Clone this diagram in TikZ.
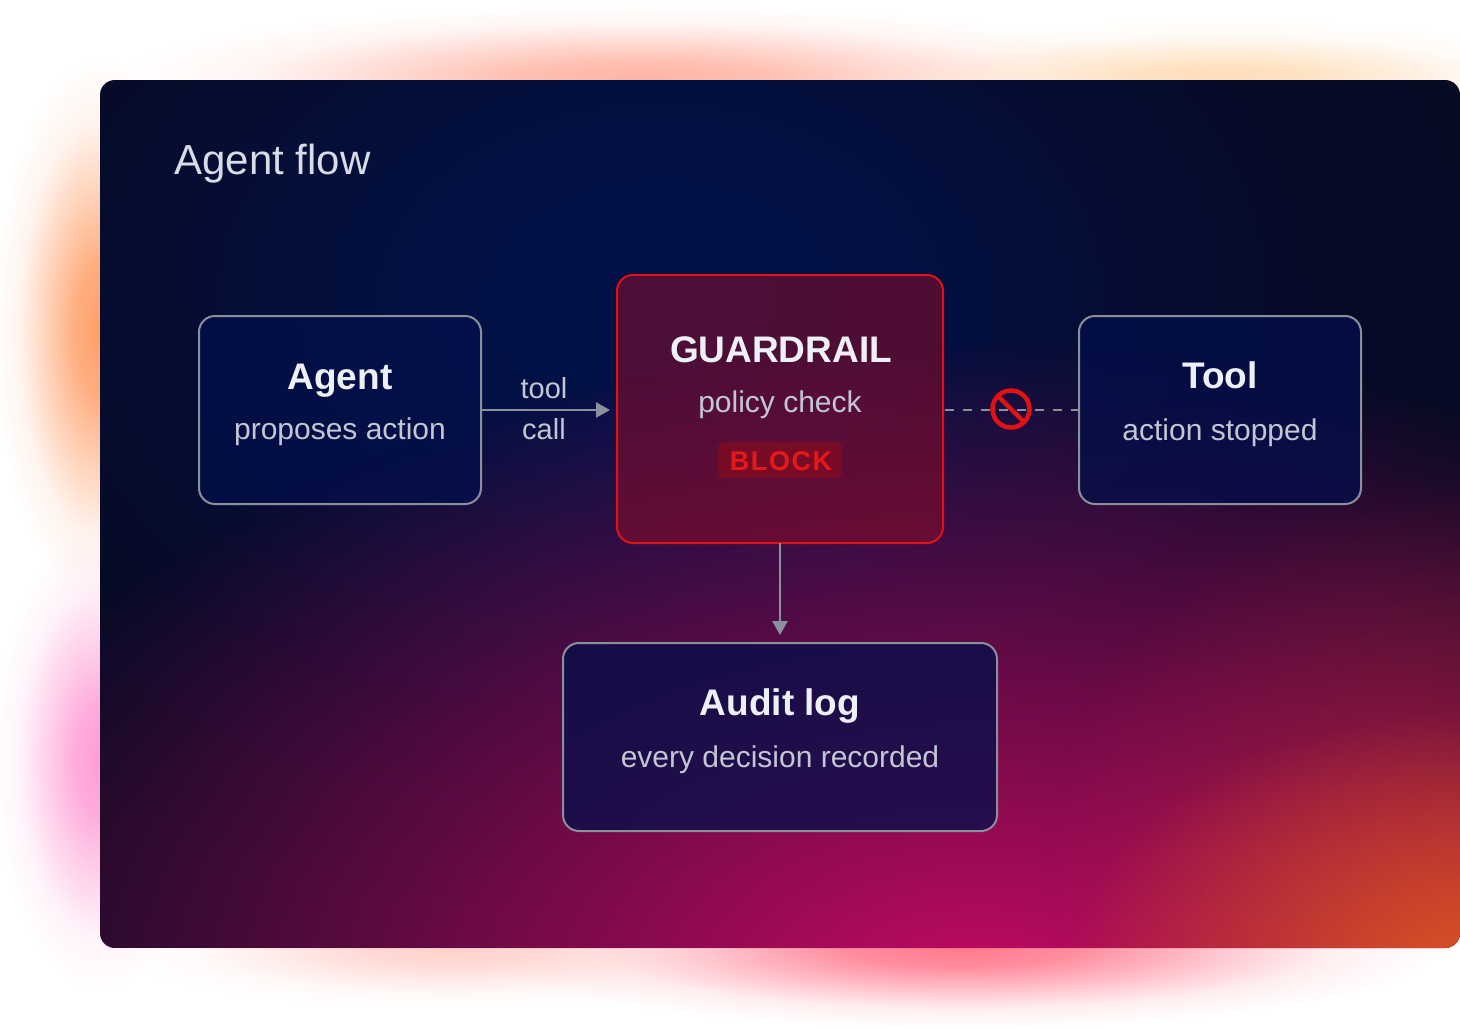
\documentclass[tikz,border=0pt]{standalone}
\usepackage{fontspec}
\setmainfont{Liberation Sans}
\usetikzlibrary{arrows.meta,fadings}
\definecolor{bgbase}{HTML}{080A22}
\definecolor{navyglow}{HTML}{02124A}
\definecolor{magglow}{HTML}{C60A64}
\definecolor{orgglow}{HTML}{E25A1E}
\definecolor{redglow}{HTML}{C8283E}
\definecolor{boxfill}{HTML}{030F4A}
\definecolor{boxline}{HTML}{8A8F9C}
\definecolor{arrcol}{HTML}{8A909C}
\definecolor{guardfill}{HTML}{8C0C2A}
\definecolor{guardline}{HTML}{E01212}
\definecolor{badgefill}{HTML}{780B26}
\definecolor{badgetext}{HTML}{E61818}
\definecolor{titlecol}{HTML}{EEF0F8}
\definecolor{subcol}{HTML}{C3C6D3}
\definecolor{headcol}{HTML}{D8DCE6}
\definecolor{gOrange}{HTML}{FFA06A}
\definecolor{gPink}{HTML}{FF9ED6}
\definecolor{gSalmon}{HTML}{FFB4A4}
\definecolor{gPeach}{HTML}{FFDDB8}
\definecolor{gRed}{HTML}{FF7A8E}
\definecolor{gLight}{HTML}{FFD2CC}
\pgfdeclareradialshading{softglowshade}{\pgfpointorigin}{color(0bp)=(white); color(6bp)=(white!85!black); color(13bp)=(white!45!black); color(19bp)=(white!12!black); color(25bp)=(black); color(50bp)=(black)}
\pgfdeclarefading{softglow}{\pgfuseshading{softglowshade}}
\tikzfading[name=linfade, inner color=transparent!0, outer color=transparent!100]
\tikzset{
  glow/.style={fill=#1, path fading=softglow},
  box/.style={draw=boxline, line width=2pt, rounded corners=16pt, fill=boxfill, fill opacity=0.75, inner sep=0pt, outer sep=0pt},
  guardbox/.style={draw=guardline, line width=2pt, rounded corners=16pt, fill=guardfill, fill opacity=0.55, inner sep=0pt, outer sep=0pt},
  ttl/.style={anchor=base, text=titlecol, font=\fontsize{37}{44}\selectfont\bfseries},
  sub/.style={anchor=base, text=subcol, font=\fontsize{30}{36}\selectfont},
  lbl/.style={anchor=base, text=subcol, font=\fontsize{29}{34}\selectfont},
  conn/.style={draw=arrcol, line width=2.5pt},
  tip/.style={-{Triangle[length=14pt,width=15pt]}},
}
\begin{document}
\begin{tikzpicture}[x=1pt,y=-1pt]
\useasboundingbox (0,0) rectangle (1460,1028);
\fill[white] (0,0) rectangle (1460,1028);
% glow around the panel
\fill[glow=gOrange] (100,330) ellipse [x radius=105pt, y radius=270pt];
\fill[glow=gPink] (100,760) ellipse [x radius=105pt, y radius=230pt];
\fill[glow=gSalmon] (640,80) ellipse [x radius=520pt, y radius=75pt];
\fill[glow=gPeach] (1220,80) ellipse [x radius=360pt, y radius=60pt];
\fill[glow=gRed] (960,948) ellipse [x radius=480pt, y radius=80pt];
\fill[glow=gLight] (450,948) ellipse [x radius=330pt, y radius=60pt];
% panel
\begin{scope}
\clip[rounded corners=15pt] (100,80) rectangle (1460,948);
\fill[bgbase] (100,80) rectangle (1460,948);
\fill[navyglow, path fading=softglow] (660,300) ellipse [x radius=900pt, y radius=620pt];
\fill[magglow, path fading=linfade] (980,1000) ellipse [x radius=1100pt, y radius=660pt];
\fill[redglow, path fading=linfade, fill opacity=0.6] (1460,900) ellipse [x radius=420pt, y radius=420pt];
\fill[orgglow, path fading=linfade, fill opacity=0.9] (1470,970) ellipse [x radius=400pt, y radius=260pt];
\end{scope}
\node[anchor=base west, text=headcol, font=\fontsize{42}{50}\selectfont] (head) at (171,174) {Agent flow};
% boxes
\node[box, minimum width=282pt, minimum height=188pt] (agent) at (340,410) {};
\node[guardbox, minimum width=326pt, minimum height=268pt] (guard) at (780,409) {};
\node[box, minimum width=282pt, minimum height=188pt] (tool) at (1220,410) {};
\node[box, minimum width=434pt, minimum height=188pt] (audit) at (780,737) {};
% texts
\node[ttl] (agentT) at (340,389) {Agent};
\node[sub] (agentS) at (340,439) {proposes action};
\node[ttl] (guardT) at (781,362) {GUARDRAIL};
\node[sub] (guardS) at (780,412) {policy check};
\node[fill=badgefill, rounded corners=6pt, minimum width=124pt, minimum height=36pt, inner sep=0pt] (badge) at (780,460) {};
\node[anchor=base, text=badgetext, font=\fontsize{27}{32}\selectfont\bfseries\addfontfeatures{LetterSpace=6}] (badgeT) at (781,470) {BLOCK};
\node[ttl] (toolT) at (1220,388) {Tool};
\node[sub] (toolS) at (1220,440) {action stopped};
\node[ttl] (auditT) at (780,715) {Audit log};
\node[sub] (auditS) at (780,767) {every decision recorded};
% connectors
\draw[conn, tip, shorten >=7pt] (agent.east) -- (agent.east -| guard.west);
\node[lbl] (lblTool) at (544,398) {tool};
\node[lbl] (lblCall) at (544,439) {call};
\draw[conn, tip, shorten >=8pt] (guard.south) -- (audit.north);
\draw[conn, dash pattern=on 9pt off 9pt, dash phase=-2pt] (tool.west -| guard.east) -- (tool.west);
\node[circle, draw=guardline, line width=4.5pt, minimum size=37pt, inner sep=0pt, outer sep=0pt] (noentry) at (1011,409) {};
\draw[guardline, line width=4.5pt] (noentry.north west) -- (noentry.south east);
\end{tikzpicture}
\end{document}
